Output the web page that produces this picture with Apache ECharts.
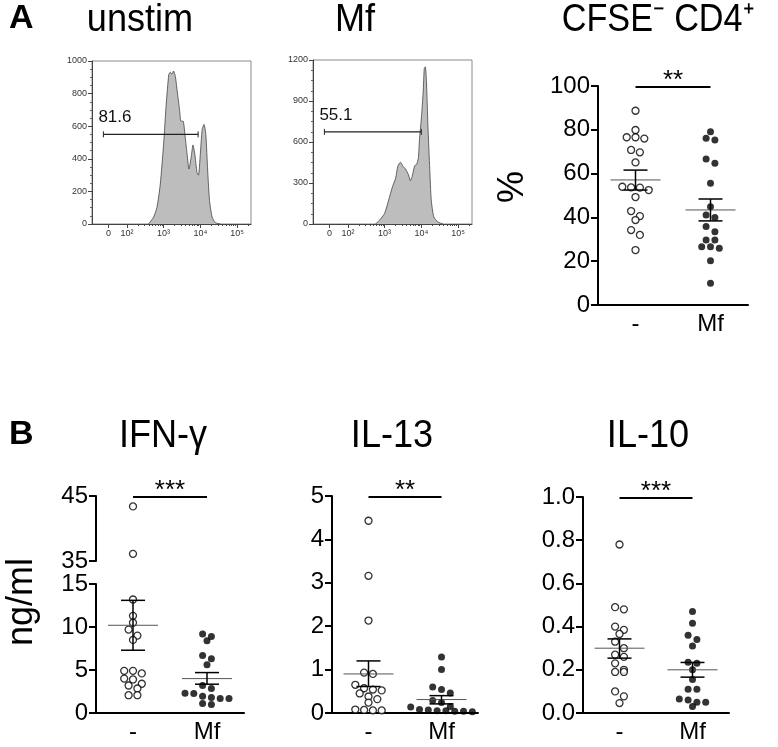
<!DOCTYPE html>
<html><head><meta charset="utf-8">
<script src="https://cdn.jsdelivr.net/npm/echarts@6/dist/echarts.min.js"></script>
<style>html,body{margin:0;padding:0;background:#fff}#c{width:778px;height:747px}</style>
</head><body><div id="c"></div>
<script>
// ---------- DATA ----------
// histograms (x in biexponential display units: 2=10^2, 3=10^3 ...; y = count)
const histUnstimX = [2.59,2.73,2.82,2.91,3.0,3.07,3.14,3.18,3.23,3.27,3.32,3.36,3.44,3.47,3.53,3.59,3.64,3.69,3.75,3.8,3.85,3.91,3.95,4.0,4.05,4.1,4.15,4.2,4.25,4.32,4.41,4.55];
const histUnstimY = [0,43,103,245,489,732,915,931,919,939,905,834,690,631,631,529,428,337,408,485,428,316,300,428,580,611,550,327,144,43,8,0];
const histMfX = [2.75,2.86,3.0,3.11,3.21,3.3,3.36,3.43,3.5,3.57,3.65,3.7,3.75,3.82,3.87,3.92,3.95,4.0,4.05,4.08,4.11,4.14,4.18,4.23,4.27,4.34,4.45,4.59];
const histMfY = [0,27,77,175,269,336,422,452,422,402,360,318,348,427,435,484,620,768,965,1138,1150,1040,718,398,175,52,15,0];
const gateUnstim = [1.36, 3.94, 550];
const gateMf = [1.36, 4.0, 674];
const gateLabels = ['81.6', '55.1'];
const histTickValues = [1.5, 2, 3, 4, 5];
const histTickLabels = ['0', '10²', '10³', '10⁴', '10⁵'];

const groups = ['-', 'Mf'];
// Panel A: CFSE- CD4+ (%)
const cfseNone = [88.7,79.9,76.6,76.0,76.6,70.8,69.7,65.1,54.0,53.7,53.6,52.5,49.3,42.9,40.6,38.8,34.2,32.0,25.1];
const cfseMf = [79.1,75.3,76.1,66.7,64.7,55.6,44.9,40.0,41.1,35.8,33.5,29.7,29.7,26.6,25.9,26.6,20.2,9.9];
const cfseStats = [[57.1,52.5,61.6],[43.4,38.4,48.4]];   // mean, mean-SEM, mean+SEM
// Panel B: cytokines (ng/ml)
const ifnNone = [43.4,36.1,13.2,11.3,10.5,9.7,9.0,8.5,4.9,4.9,4.6,4.0,3.9,3.4,3.2,2.85,2.07,2.07];
const ifnMf = [9.2,8.9,8.4,6.7,6.3,5.6,3.2,2.85,2.3,2.27,1.95,1.8,1.7,1.7,1.1,1.0];
const ifnStats = [[10.2,7.3,13.1],[4.0,3.35,4.7]];
const il13None = [4.43,3.16,2.13,0.93,0.9,0.65,0.57,0.54,0.52,0.45,0.38,0.32,0.24,0.07,0.06,0.06,0.08];
const il13Mf = [1.29,1.0,0.6,0.54,0.46,0.29,0.24,0.15,0.14,0.08,0.05,0.04,0.03,0.04,0.05,0.07];
const il13Stats = [[0.9,0.61,1.2],[0.31,0.21,0.4]];
const il10None = [0.78,0.49,0.48,0.40,0.385,0.366,0.33,0.30,0.27,0.26,0.23,0.2,0.19,0.19,0.1,0.077,0.046];
const il10Mf = [0.47,0.415,0.36,0.34,0.31,0.235,0.23,0.2,0.155,0.11,0.11,0.065,0.06,0.05,0.05,0.03];
const il10Stats = [[0.30,0.254,0.343],[0.20,0.166,0.234]];
const sigLabels = ['**', '***', '**', '***'];

// ---------- LAYOUT ----------
const FONT = '"Liberation Sans", Arial, Helvetica, sans-serif';
const grids = [
  {left:92, top:61, width:159, height:163, show:true, borderColor:'#8a8a8a', borderWidth:1},
  {left:313, top:60, width:159, height:164, show:true, borderColor:'#8a8a8a', borderWidth:1},
  {left:598, top:86, width:150, height:219},
  {left:96, top:496, width:148, height:65},
  {left:96, top:584, width:148, height:129},
  {left:332, top:496, width:146, height:217},
  {left:583, top:497, width:146, height:216}
];
const minorHist = [];
[2,3,4].forEach(d => { for (let k = 2; k <= 9; k++) minorHist.push(d + Math.log10(k)); });
minorHist.push(5 + Math.log10(2));

function histX(gi) {
  return [{
    gridIndex: gi, type:'value', min:1.05, max:5.38, position:'bottom',
    axisLine:{lineStyle:{color:'#444', width:1}},
    axisTick:{customValues:histTickValues, length:4, lineStyle:{color:'#444'}},
    axisLabel:{customValues:histTickValues, fontSize:9, color:'#333', margin:5, fontFamily:FONT,
      formatter: v => histTickLabels[histTickValues.indexOf(v)] || ''},
    splitLine:{show:false}
  }, {
    gridIndex: gi, type:'value', min:1.05, max:5.38, position:'bottom',
    axisLine:{show:false}, axisLabel:{show:false},
    axisTick:{customValues:minorHist, length:2, lineStyle:{color:'#444'}},
    splitLine:{show:false}
  }];
}
function histY(gi, max, interval) {
  return {gridIndex:gi, type:'value', min:0, max:max, interval:interval,
    axisLine:{show:true, lineStyle:{color:'#444', width:1}},
    axisTick:{show:true, length:4, lineStyle:{color:'#444'}},
    minorTick:{show:true, splitNumber:4, length:2, lineStyle:{color:'#666'}},
    axisLabel:{fontSize:9, color:'#333', margin:5, fontFamily:FONT, formatter: v => String(v)},
    splitLine:{show:false}};
}
function catX(gi, show) {
  return {gridIndex:gi, type:'value', min:0, max:2, show:show, position:'bottom',
    axisLine:{show:true, lineStyle:{color:'#000', width:2}},
    axisTick:{show:false},
    axisLabel:{customValues:[0.5,1.5], fontSize:24, color:'#000', margin:7, fontFamily:FONT,
      formatter: v => v < 1 ? groups[0] : groups[1]},
    splitLine:{show:false}};
}
function valY(gi, min, max, vals, fmt) {
  return {gridIndex:gi, type:'value', min:min, max:max,
    axisLine:{show:true, lineStyle:{color:'#000', width:2}},
    axisTick:{show:true, customValues:vals, length:7, lineStyle:{color:'#000', width:2}},
    axisLabel:{customValues:vals, fontSize:24, color:'#000', margin:8, fontFamily:FONT, formatter: fmt || (v => String(v))},
    splitLine:{show:false}};
}

// swarm layout in pixel space (rows of near-equal values spread horizontally)
function swarm(values, center, g, ymin, ymax) {
  const pxY = g.height / (ymax - ymin), pxX = g.width / 2;
  const order = values.map((v, i) => i).sort((a, b) => values[b] - values[a]);
  const rows = []; let cur = null;
  order.forEach(i => {
    if (!cur || (values[cur[0]] - values[i]) * pxY > 6.5) { cur = [i]; rows.push(cur); } else cur.push(i);
  });
  const out = [];
  rows.forEach(r => { const n = r.length; r.forEach((i, k) => out.push([center + (k - (n - 1) / 2) * 8.8 / pxX, values[i]])); });
  return out;
}
function dots(xi, yi, data, filled) {
  return {type:'scatter', xAxisIndex:xi, yAxisIndex:yi, data:data, symbol:'circle', symbolSize:7, z:3,
    itemStyle: filled ? {color:'#000'} : {color:'#fff', borderColor:'#000', borderWidth:1.3}, silent:true};
}
function meanSem(xi, yi, stats) {
  return {type:'custom', xAxisIndex:xi, yAxisIndex:yi, z:5, clip:false, silent:true,
    data: stats.map((s, i) => [i + 0.5, s[0], s[1], s[2]]),
    renderItem(p, api) {
      const c = api.value(0);
      const m = api.coord([c, api.value(1)]), lo = api.coord([c, api.value(2)]), hi = api.coord([c, api.value(3)]);
      return {type:'group', children:[
        {type:'line', shape:{x1:m[0]-25, y1:m[1], x2:m[0]+25, y2:m[1]}, style:{stroke:'#555', lineWidth:1}},
        {type:'line', shape:{x1:lo[0], y1:lo[1], x2:hi[0], y2:hi[1]}, style:{stroke:'#000', lineWidth:1.5}},
        {type:'line', shape:{x1:lo[0]-12, y1:lo[1], x2:lo[0]+12, y2:lo[1]}, style:{stroke:'#000', lineWidth:1.5}},
        {type:'line', shape:{x1:hi[0]-12, y1:hi[1], x2:hi[0]+12, y2:hi[1]}, style:{stroke:'#000', lineWidth:1.5}}
      ]};
    }};
}
function sig(xi, yi, y, text) {
  return {type:'custom', xAxisIndex:xi, yAxisIndex:yi, z:5, clip:false, silent:true,
    data:[[0.5, y, 1.5]],
    renderItem(p, api) {
      const a = api.coord([api.value(0), api.value(1)]), b = api.coord([api.value(2), api.value(1)]);
      return {type:'group', children:[
        {type:'line', shape:{x1:a[0], y1:a[1]+1, x2:b[0], y2:b[1]+1}, style:{stroke:'#000', lineWidth:2}},
        {type:'text', x:(a[0]+b[0])/2, y:a[1]-5, style:{text:text, fill:'#000', font:'26px ' + FONT, align:'center', verticalAlign:'middle'}}
      ]};
    }};
}
function hist(xi, yi, xs, ys) {
  return {type:'line', xAxisIndex:xi, yAxisIndex:yi, data: xs.map((x, i) => [x, ys[i]]),
    symbol:'none', smooth:0.2, lineStyle:{color:'#444', width:0.8}, areaStyle:{color:'#bdbdbd', opacity:1}, silent:true, z:2};
}
function gate(xi, yi, g, label) {
  return {type:'custom', xAxisIndex:xi, yAxisIndex:yi, z:4, silent:true, data:[[g[0], g[2], g[1]]],
    renderItem(p, api) {
      const a = api.coord([api.value(0), api.value(1)]), b = api.coord([api.value(2), api.value(1)]);
      return {type:'group', children:[
        {type:'line', shape:{x1:a[0], y1:a[1], x2:b[0], y2:b[1]}, style:{stroke:'#222', lineWidth:1.3}},
        {type:'line', shape:{x1:a[0], y1:a[1]-3, x2:a[0], y2:a[1]+3}, style:{stroke:'#222', lineWidth:1}},
        {type:'line', shape:{x1:b[0], y1:b[1]-3, x2:b[0], y2:b[1]+3}, style:{stroke:'#222', lineWidth:1}},
        {type:'text', x:a[0]-5, y:a[1]-17, style:{text:label, fill:'#111', font:'17px ' + FONT, align:'left', verticalAlign:'middle'}}
      ]};
    }};
}

const xAxes = [].concat(histX(0), histX(1), [catX(2, true), catX(3, false), catX(4, true), catX(5, true), catX(6, true)]);
// xAxis idx: 0,1 hist1 ; 2,3 hist2 ; 4 A ; 5 IFN upper ; 6 IFN lower ; 7 IL13 ; 8 IL10
const yAxes = [
  histY(0, 1000, 200), histY(1, 1200, 300),
  valY(2, 0, 100, [0,20,40,60,80,100]),
  valY(3, 35, 45, [35,45]),
  valY(4, 0, 15, [0,5,10,15]),
  valY(5, 0, 5, [0,1,2,3,4,5]),
  valY(6, 0, 1, [0,0.2,0.4,0.6,0.8,1.0], v => v.toFixed(1))
];

const ifnHigh = ifnNone.filter(v => v > 15), ifnLow = ifnNone.filter(v => v <= 15);
const series = [
  hist(0, 0, histUnstimX, histUnstimY), gate(0, 0, gateUnstim, gateLabels[0]),
  hist(2, 1, histMfX, histMfY), gate(2, 1, gateMf, gateLabels[1]),
  dots(4, 2, swarm(cfseNone, 0.5, grids[2], 0, 100), false),
  dots(4, 2, swarm(cfseMf, 1.5, grids[2], 0, 100), true),
  meanSem(4, 2, cfseStats), sig(4, 2, 100, sigLabels[0]),
  dots(5, 3, swarm(ifnHigh, 0.5, grids[3], 35, 45), false),
  dots(6, 4, swarm(ifnLow, 0.5, grids[4], 0, 15), false),
  dots(6, 4, swarm(ifnMf, 1.5, grids[4], 0, 15), true),
  meanSem(6, 4, ifnStats), sig(5, 3, 45, sigLabels[1]),
  dots(7, 5, swarm(il13None, 0.5, grids[5], 0, 5), false),
  dots(7, 5, swarm(il13Mf, 1.5, grids[5], 0, 5), true),
  meanSem(7, 5, il13Stats), sig(7, 5, 5, sigLabels[2]),
  dots(8, 6, swarm(il10None, 0.5, grids[6], 0, 1), false),
  dots(8, 6, swarm(il10Mf, 1.5, grids[6], 0, 1), true),
  meanSem(8, 6, il10Stats), sig(8, 6, 1, sigLabels[3])
];

function title(text, cx, top, size, bold, sx) {
  return {type:'text', x:cx, y:top, scaleX: sx || 1, style:{text:text, fill:'#000', font:(bold ? 'bold ' : '') + size + 'px ' + FONT, align:'center', verticalAlign:'top'}};
}
const graphics = [
  {type:'text', x:9, y:2, style:{text:'A', fill:'#000', font:'bold 34px ' + FONT, align:'left', verticalAlign:'top'}},
  title('unstim', 140, 2, 38, false, 0.95),
  title('Mf', 355, 2, 38, false, 0.95),
  title('CFSE⁻ CD4⁺', 658, 2, 38, false, 0.9),
  {type:'text', x:9, y:418, style:{text:'B', fill:'#000', font:'bold 34px ' + FONT, align:'left', verticalAlign:'top'}},
  title('IFN-γ', 163, 418, 38, false, 0.95),
  title('IL-13', 392, 418, 38, false, 0.95),
  title('IL-10', 648, 418, 38, false, 0.95),
  {type:'text', x:513, y:187, rotation:Math.PI/2, style:{text:'%', fill:'#000', font:'36px ' + FONT, align:'center', verticalAlign:'middle'}},
  {type:'text', x:22, y:602, rotation:Math.PI/2, style:{text:'ng/ml', fill:'#000', font:'36px ' + FONT, align:'center', verticalAlign:'middle'}}
];

const chart = echarts.init(document.getElementById('c'), null, {renderer:'canvas'});
chart.setOption({
  animation:false, backgroundColor:'#fff',
  grid:grids, xAxis:xAxes, yAxis:yAxes, series:series, graphic:graphics
});
</script></body></html>
